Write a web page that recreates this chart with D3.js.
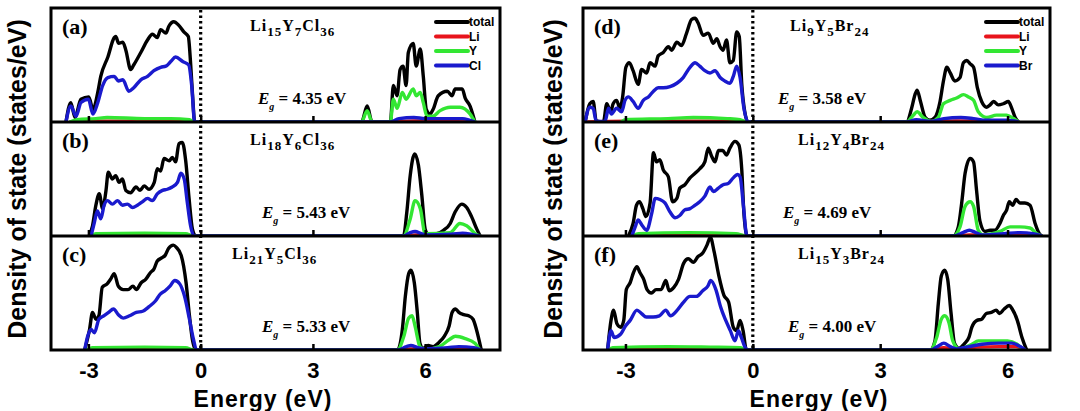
<!DOCTYPE html>
<html>
<head>
<meta charset="utf-8">
<script src="https://cdn.jsdelivr.net/npm/d3@7"></script>
<style>
  body { margin: 0; background: #fff; }
  svg { display: block; }
</style>
</head>
<body>
<div id="fig"></div>
<script>
// ---- data: [energy (eV), DOS (arb.)] ----
var aTotal = [[-3.6,0],[-3.47,17],[-3.36,4],[-3.2,20],[-2.99,22],[-2.88,11],[-2.75,26],[-2.67,40],[-2.48,57],[-2.31,74],[-2.27,75],[-2.19,69],[-2.08,70],[-2.0,63],[-1.87,46],[-1.79,50],[-1.6,61],[-1.42,72],[-1.29,77],[-1.16,74],[-1.07,81],[-0.93,78],[-0.85,84],[-0.72,88],[-0.59,85],[-0.45,79],[-0.33,75],[-0.27,52],[-0.21,20],[-0.16,0],[4.3,0],[4.45,14],[4.58,0],[5.07,0],[5.15,32],[5.25,23],[5.33,46],[5.41,49],[5.49,32],[5.55,61],[5.68,69],[5.76,49],[5.87,64],[5.95,40],[6.03,11],[6.13,7],[6.21,11],[6.35,23],[6.59,27],[6.72,23],[6.8,29],[6.99,29],[7.07,21],[7.2,14],[7.33,0]];
var aLi = [[-3.5,0],[-3.0,0.8],[-0.3,0.8],[-0.16,0],[5.07,0],[5.7,1],[7.33,0]];
var aY = [[-3.5,0],[-3.3,2],[-2.8,3],[-2.5,4],[-1.5,3],[-0.8,3],[-0.3,2],[-0.16,0],[4.3,0],[4.45,10],[4.58,0],[5.07,0],[5.15,20],[5.25,12],[5.39,26],[5.49,20],[5.68,29],[5.76,23],[5.87,26],[5.95,17],[6.05,5],[6.2,5],[6.4,10],[6.67,13],[6.93,13],[7.2,7],[7.33,0]];
var aCl = [[-3.6,0],[-3.47,14],[-3.33,5],[-3.2,17],[-3.0,20],[-2.88,7],[-2.75,17],[-2.62,32],[-2.48,39],[-2.31,40],[-2.2,36],[-2.08,37],[-1.92,27],[-1.79,30],[-1.6,37],[-1.42,40],[-1.25,45],[-1.07,48],[-0.93,49],[-0.8,53],[-0.67,57],[-0.48,53],[-0.32,50],[-0.24,32],[-0.16,0],[5.07,0],[5.3,3],[5.7,4],[6.0,3],[6.5,3],[7.0,3],[7.33,0]];

var bTotal = [[-2.98,0],[-2.89,9],[-2.8,27],[-2.71,37],[-2.62,24],[-2.53,40],[-2.47,56],[-2.36,50],[-2.27,53],[-2.18,47],[-2.09,50],[-2.0,40],[-1.87,38],[-1.73,43],[-1.62,40],[-1.51,44],[-1.38,41],[-1.24,47],[-1.16,59],[-1.07,57],[-0.98,68],[-0.84,66],[-0.76,69],[-0.67,65],[-0.58,81],[-0.49,82],[-0.4,66],[-0.31,33],[-0.22,6],[-0.13,0],[5.42,0],[5.51,21],[5.6,53],[5.72,72],[5.82,62],[5.91,36],[6.0,6],[6.09,1],[6.31,2],[6.49,5],[6.67,11],[6.8,21],[6.98,28],[7.11,25],[7.24,17],[7.38,6],[7.47,0]];
var bLi = [[-2.95,0],[-2.5,0.7],[-0.4,0.7],[-0.2,0],[5.42,0],[5.75,1],[7.0,0.8],[7.47,0]];
var bY = [[-2.95,0],[-2.8,2],[-1.5,2.5],[-0.4,2],[-0.2,0],[5.42,0],[5.6,15],[5.73,31],[5.87,24],[6.0,2],[6.67,3],[6.93,11],[7.11,9],[7.38,1],[7.47,0]];
var bCl = [[-2.93,0],[-2.84,12],[-2.76,22],[-2.67,15],[-2.58,27],[-2.49,31],[-2.36,28],[-2.22,31],[-2.09,27],[-1.96,28],[-1.82,25],[-1.69,27],[-1.56,30],[-1.42,33],[-1.29,31],[-1.16,37],[-1.02,40],[-0.89,41],[-0.76,43],[-0.62,47],[-0.53,55],[-0.44,50],[-0.36,30],[-0.27,9],[-0.18,0],[5.42,0],[5.6,3],[5.73,4],[5.9,2],[6.0,1],[6.7,1.5],[7.0,2.5],[7.3,1],[7.47,0]];

var cTotal = [[-3.1,0],[-2.97,18],[-2.89,33],[-2.8,27],[-2.72,30],[-2.63,55],[-2.5,58],[-2.41,62],[-2.31,67],[-2.2,56],[-2.07,53],[-1.94,53],[-1.81,56],[-1.72,53],[-1.59,59],[-1.47,62],[-1.34,68],[-1.25,71],[-1.16,78],[-1.03,81],[-0.95,83],[-0.86,89],[-0.73,92],[-0.65,90],[-0.52,83],[-0.39,59],[-0.3,30],[-0.22,9],[-0.13,0],[5.26,0],[5.39,18],[5.47,47],[5.56,67],[5.62,70],[5.71,59],[5.79,33],[5.86,6],[5.95,1.5],[6.08,4],[6.21,3],[6.38,7],[6.51,12],[6.64,21],[6.72,33],[6.81,36],[6.9,33],[7.03,31],[7.16,30],[7.28,27],[7.37,18],[7.5,0]];
var cLi = [[-3.05,0],[-2.8,0.7],[-0.4,0.7],[-0.2,0],[5.26,0],[5.6,1],[7.0,0.8],[7.5,0]];
var cY = [[-3.05,0],[-2.9,2],[-1.5,2.5],[-0.4,2],[-0.2,0],[5.26,0],[5.43,12],[5.56,28],[5.65,30],[5.73,21],[5.86,3],[6.0,0.5],[6.38,3],[6.64,9],[6.81,12],[7.07,10],[7.33,6],[7.46,0]];
var cCl = [[-3.1,0],[-3.02,12],[-2.93,18],[-2.84,15],[-2.72,27],[-2.59,30],[-2.46,33],[-2.33,36],[-2.2,31],[-2.07,28],[-1.9,30],[-1.72,33],[-1.55,34],[-1.38,38],[-1.21,43],[-1.08,49],[-0.95,52],[-0.82,56],[-0.69,61],[-0.56,58],[-0.43,47],[-0.3,27],[-0.19,9],[-0.11,0],[5.26,0],[5.5,3],[5.62,4],[5.8,2],[6.0,1],[6.6,2],[6.9,3],[7.3,2],[7.5,0]];

var dTotal = [[-3.95,0],[-3.84,16],[-3.76,18],[-3.69,1],[-3.52,0],[-3.44,16],[-3.35,9],[-3.29,16],[-3.21,19],[-3.13,12],[-3.07,21],[-2.99,48],[-2.91,52],[-2.82,45],[-2.7,33],[-2.62,46],[-2.5,43],[-2.42,52],[-2.3,49],[-2.23,58],[-2.11,61],[-1.99,66],[-1.91,63],[-1.79,70],[-1.68,67],[-1.56,78],[-1.44,90],[-1.36,91],[-1.29,87],[-1.17,76],[-1.05,78],[-0.93,69],[-0.85,73],[-0.77,66],[-0.7,63],[-0.62,72],[-0.54,52],[-0.46,54],[-0.38,79],[-0.32,75],[-0.26,33],[-0.19,9],[-0.11,0],[3.62,0],[3.74,12],[3.82,24],[3.87,28],[3.95,18],[4.06,4],[4.17,1.5],[4.29,4],[4.41,18],[4.49,36],[4.57,48],[4.65,43],[4.76,36],[4.88,39],[4.96,52],[5.04,54],[5.12,51],[5.2,48],[5.29,30],[5.39,18],[5.51,13],[5.59,15],[5.67,18],[5.78,15],[5.9,16],[6.02,18],[6.1,12],[6.18,4],[6.26,0]];
var dLi = [[-3.9,0],[-3.0,0.8],[-0.3,0.8],[-0.12,0],[3.62,0],[4.8,1],[6.26,0]];
var dY = [[-3.1,0],[-3.0,2],[-2.0,3],[-1.4,4],[-0.6,3],[-0.3,2],[-0.15,0],[3.62,0],[3.78,6],[3.87,9],[4.01,4],[4.21,0.5],[4.37,4],[4.49,16],[4.65,19],[4.8,21],[4.96,24],[5.08,22],[5.2,19],[5.31,9],[5.51,4],[5.74,6],[5.98,6],[6.14,3],[6.26,0]];
var dBr = [[-3.95,0],[-3.84,13],[-3.76,12],[-3.69,0.5],[-3.48,0.5],[-3.4,12],[-3.33,7],[-3.21,12],[-3.09,9],[-3.01,19],[-2.93,22],[-2.82,18],[-2.7,12],[-2.58,19],[-2.46,22],[-2.34,27],[-2.23,30],[-2.11,30],[-1.95,31],[-1.79,34],[-1.64,39],[-1.48,48],[-1.36,52],[-1.25,49],[-1.13,45],[-1.01,43],[-0.89,45],[-0.77,39],[-0.66,36],[-0.54,34],[-0.46,40],[-0.38,49],[-0.3,39],[-0.21,12],[-0.11,0],[3.62,0],[3.85,2],[4.2,0.5],[4.5,3],[4.9,4],[5.2,3],[5.5,1.5],[6.0,1.5],[6.26,0]];

var eTotal = [[-2.93,0],[-2.82,11],[-2.74,27],[-2.67,30],[-2.59,24],[-2.52,17],[-2.42,29],[-2.34,73],[-2.27,65],[-2.19,67],[-2.11,58],[-1.99,52],[-1.89,30],[-1.79,33],[-1.72,42],[-1.6,45],[-1.48,51],[-1.36,55],[-1.25,59],[-1.13,65],[-1.05,77],[-0.97,70],[-0.89,65],[-0.81,75],[-0.71,75],[-0.62,71],[-0.54,77],[-0.42,83],[-0.33,80],[-0.26,58],[-0.21,20],[-0.13,0],[4.72,0],[4.84,8],[4.92,29],[5.0,55],[5.12,68],[5.2,65],[5.27,40],[5.35,13],[5.47,4],[5.59,5],[5.7,5],[5.82,11],[5.9,18],[5.98,23],[6.04,30],[6.12,27],[6.2,32],[6.29,29],[6.41,29],[6.53,27],[6.65,11],[6.75,2],[6.81,0]];
var eLi = [[-2.85,0],[-2.5,0.8],[-0.3,0.8],[-0.14,0],[4.72,0],[5.1,1],[6.2,1],[6.81,0]];
var eY = [[-2.85,0],[-2.7,2],[-1.5,3],[-0.4,2],[-0.15,0],[4.72,0],[4.88,8],[5.0,26],[5.12,30],[5.2,26],[5.31,5],[5.43,1],[5.82,4],[6.06,8],[6.29,8],[6.53,7],[6.69,2],[6.81,0]];
var eBr = [[-2.85,0],[-2.77,8],[-2.7,14],[-2.62,10],[-2.5,5],[-2.38,20],[-2.3,33],[-2.19,32],[-2.07,29],[-1.95,21],[-1.83,16],[-1.72,18],[-1.6,23],[-1.48,24],[-1.36,27],[-1.25,30],[-1.13,35],[-1.01,43],[-0.93,39],[-0.81,42],[-0.7,45],[-0.58,46],[-0.46,51],[-0.36,54],[-0.3,52],[-0.22,26],[-0.14,0],[4.72,0],[4.95,3],[5.1,5],[5.25,3],[5.4,1],[5.9,2],[6.3,3],[6.6,2],[6.81,0]];

var fTotal = [[-3.42,0],[-3.34,26],[-3.28,35],[-3.2,23],[-3.11,20],[-3.04,26],[-2.98,53],[-2.89,59],[-2.81,68],[-2.73,73],[-2.66,68],[-2.57,62],[-2.49,53],[-2.39,50],[-2.28,53],[-2.16,53],[-2.05,61],[-1.97,52],[-1.86,55],[-1.75,62],[-1.63,76],[-1.52,80],[-1.4,77],[-1.29,82],[-1.18,85],[-1.08,92],[-1.0,99],[-0.91,86],[-0.8,65],[-0.68,48],[-0.57,42],[-0.46,20],[-0.38,17],[-0.3,26],[-0.23,17],[-0.15,0],[4.18,0],[4.29,8],[4.37,41],[4.44,65],[4.52,70],[4.59,62],[4.67,32],[4.75,6],[4.86,1.5],[4.97,5],[5.09,11],[5.16,20],[5.28,26],[5.39,27],[5.5,32],[5.62,33],[5.73,35],[5.81,32],[5.92,36],[6.04,39],[6.11,36],[6.23,26],[6.34,11],[6.45,0]];
var fLi = [[-3.4,0],[-3.0,1],[-0.4,1],[-0.15,0],[4.2,0],[4.5,2],[4.8,1],[5.3,2.5],[5.8,3],[6.2,3],[6.4,0]];
var fY = [[-3.4,0],[-3.3,2],[-2.0,3],[-1.0,2.5],[-0.3,2],[-0.15,0],[4.18,0],[4.33,11],[4.44,27],[4.52,30],[4.62,24],[4.71,8],[4.86,1],[5.16,5],[5.31,8],[5.62,8],[6.0,8],[6.23,5],[6.38,0]];
var fBr = [[-3.42,0],[-3.34,17],[-3.27,11],[-3.11,14],[-3.0,21],[-2.89,26],[-2.73,35],[-2.62,32],[-2.51,29],[-2.35,29],[-2.2,30],[-2.05,35],[-1.94,30],[-1.78,35],[-1.63,42],[-1.48,47],[-1.33,47],[-1.18,52],[-1.06,56],[-0.99,61],[-0.87,53],[-0.76,38],[-0.65,27],[-0.53,17],[-0.42,8],[-0.34,17],[-0.27,11],[-0.19,3],[-0.11,0],[4.18,0],[4.35,3],[4.5,6],[4.65,3],[4.8,1],[5.1,3],[5.4,5],[5.8,6],[6.1,6],[6.3,3],[6.42,0]];

var panelLabels = ["(a)","(b)","(c)","(d)","(e)","(f)"];
var formulas = [
  [["Li","15"],["Y","7"],["Cl","36"]],
  [["Li","18"],["Y","6"],["Cl","36"]],
  [["Li","21"],["Y","5"],["Cl","36"]],
  [["Li","9"],["Y","5"],["Br","24"]],
  [["Li","12"],["Y","4"],["Br","24"]],
  [["Li","15"],["Y","3"],["Br","24"]]
];
var gaps = ["4.35","5.43","5.33","3.58","4.69","4.00"];
var seriesNames = [["total","Li","Y","Cl"],["total","Li","Y","Br"]];
var xTicks = [-3, 0, 3, 6];
var panelSeries = [
  [aTotal, aLi, aY, aCl], [bTotal, bLi, bY, bCl], [cTotal, cLi, cY, cCl],
  [dTotal, dLi, dY, dBr], [eTotal, eLi, eY, eBr], [fTotal, fLi, fY, fBr]
];

// ---- layout ----
var W = 1080, H = 411;
var top0 = 8, rowH = 114;
var cols = [
  {x0: 51, x1: 500, dom: [-4, 8], ylab: 26, xlab: 263},
  {x0: 583, x1: 1050, dom: [-4, 7], ylab: 562, xlab: 819}
];
var formulaX = [250, 250, 232, 790, 798, 798];
var gapX = [258, 262, 262, 778, 783, 788];
var colors = ["#000000", "#e8141c", "#33e633", "#1a1acd"];
var serif = "'Liberation Serif','Times New Roman',serif";
var sans = "'Liberation Sans',Arial,Helvetica,sans-serif";

var svg = d3.select("#fig").append("svg")
    .attr("width", W).attr("height", H)
    .attr("viewBox", "0 0 " + W + " " + H);

svg.append("rect").attr("width", W).attr("height", H).attr("fill", "#fff");

var yScale = d3.scaleLinear().domain([0, 100]).range([rowH, 0]);

cols.forEach(function(c, ci) {
  var x = d3.scaleLinear().domain(c.dom).range([c.x0, c.x1]);
  var line = d3.line()
      .x(function(d) { return x(d[0]); })
      .y(function(d) { return yScale(d[1]); })
      .curve(d3.curveMonotoneX);

  for (var r = 0; r < 3; r++) {
    var pi = ci * 3 + r;
    var g = svg.append("g").attr("transform", "translate(0," + (top0 + r * rowH) + ")");

    svg.append("clipPath").attr("id", "clip" + pi)
      .append("rect").attr("x", c.x0).attr("y", 0)
      .attr("width", c.x1 - c.x0).attr("height", rowH);

    var plot = g.append("g").attr("clip-path", "url(#clip" + pi + ")");
    panelSeries[pi].forEach(function(s, si) {
      plot.append("path").datum(s)
        .attr("d", line)
        .attr("fill", "none")
        .attr("stroke", colors[si])
        .attr("stroke-width", 3.4)
        .attr("stroke-linejoin", "round");
    });

    // inner ticks at panel bottom
    var ax = g.append("g").attr("transform", "translate(0," + rowH + ")")
      .call(d3.axisBottom(x).tickValues(xTicks).tickSizeInner(-6).tickSizeOuter(0)
        .tickFormat(r === 2 ? function(d) { return String(d); } : ""));
    ax.select(".domain").remove();
    ax.selectAll(".tick line").attr("stroke", "#000").attr("stroke-width", 2.5);
    ax.selectAll(".tick text")
      .attr("y", 12)
      .attr("font-family", sans).attr("font-weight", "bold")
      .attr("font-size", 22).attr("fill", "#000");

    // panel label
    g.append("text").attr("x", c.x0 + 11).attr("y", 26)
      .attr("font-family", serif).attr("font-weight", "bold").attr("font-size", 22)
      .text(panelLabels[pi]);

    // formula
    var ft = g.append("text").attr("x", formulaX[pi]).attr("y", 23)
      .attr("font-family", serif).attr("font-weight", "bold").attr("font-size", 16)
      .attr("letter-spacing", 1);
    formulas[pi].forEach(function(p, k) {
      ft.append("tspan").attr("dy", k === 0 ? 0 : -5).text(p[0]);
      ft.append("tspan").attr("dy", 5).attr("font-size", 13).text(p[1]);
    });

    // band gap
    var gt = g.append("text").attr("x", gapX[pi]).attr("y", 96)
      .attr("font-family", serif).attr("font-weight", "bold").attr("font-size", 17);
    gt.append("tspan").attr("font-style", "italic").text("E");
    gt.append("tspan").attr("font-style", "italic").attr("font-size", 10).attr("dy", 6).text("g");
    gt.append("tspan").attr("dy", -6).text(" = " + gaps[pi] + " eV");

    // separators between stacked panels
    if (r > 0) {
      g.append("line").attr("x1", c.x0).attr("x2", c.x1).attr("y1", 0).attr("y2", 0)
        .attr("stroke", "#000").attr("stroke-width", 3);
    }
  }

  // dotted Fermi level
  svg.append("line").attr("x1", x(0)).attr("x2", x(0))
    .attr("y1", top0 + 2).attr("y2", top0 + 3 * rowH)
    .attr("stroke", "#000").attr("stroke-width", 3.2)
    .attr("stroke-dasharray", "2.5,3");

  // frame
  svg.append("rect").attr("x", c.x0).attr("y", top0)
    .attr("width", c.x1 - c.x0).attr("height", 3 * rowH)
    .attr("fill", "none").attr("stroke", "#000").attr("stroke-width", 3);

  // legend
  var lg = svg.append("g");
  seriesNames[ci].forEach(function(n, k) {
    var ly = top0 + 14 + k * 14.5;
    var lx = c.x1 - 64;
    lg.append("line").attr("x1", lx).attr("x2", lx + 32).attr("y1", ly).attr("y2", ly)
      .attr("stroke", colors[k]).attr("stroke-width", 4).attr("stroke-linecap", "round");
    lg.append("text").attr("x", lx + 33).attr("y", ly + 4)
      .attr("font-family", sans).attr("font-weight", "bold").attr("font-size", 12)
      .text(n);
  });

  // axis titles
  svg.append("text").attr("x", c.xlab).attr("y", 407)
    .attr("text-anchor", "middle")
    .attr("font-family", sans).attr("font-weight", "bold").attr("font-size", 23)
    .attr("letter-spacing", 1)
    .text("Energy (eV)");
  svg.append("text")
    .attr("transform", "translate(" + c.ylab + "," + (top0 + 1.5 * rowH) + ") rotate(-90)")
    .attr("text-anchor", "middle")
    .attr("font-family", sans).attr("font-weight", "bold").attr("font-size", 25)
    .text("Density of state (states/eV)");
});
</script>
</body>
</html>
